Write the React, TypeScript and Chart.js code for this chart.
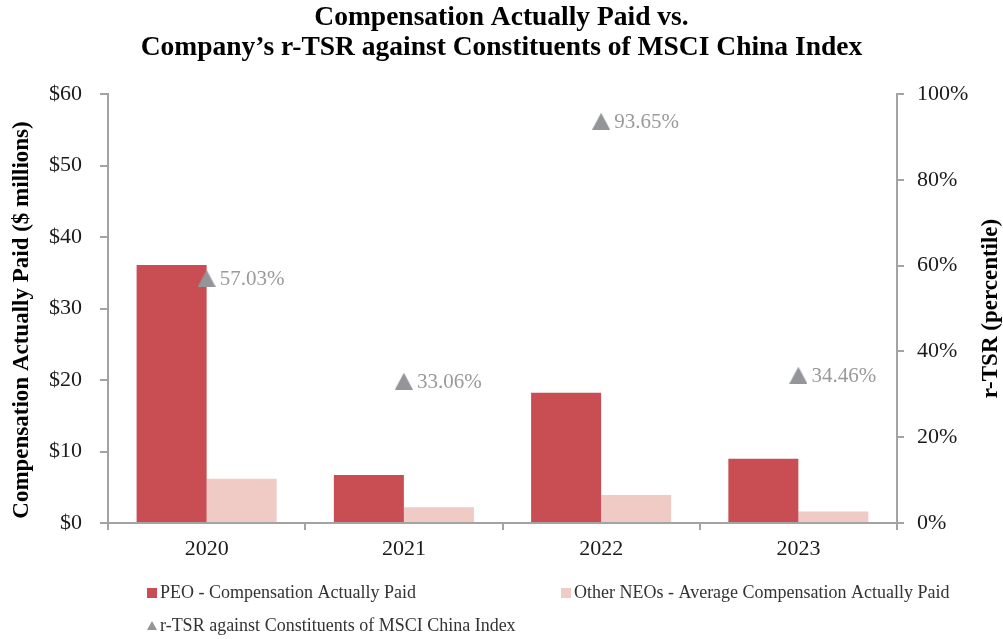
import React, { useEffect, useRef } from "react";
import { Chart, registerables } from "chart.js";

Chart.register(...registerables);

const titleLines = [
  "Compensation Actually Paid vs.",
  "Company\u2019s r-TSR against Constituents of MSCI China Index",
];
const years = ["2020", "2021", "2022", "2023"];
const peoValues = [36.1, 6.7, 18.2, 9.0];
const neoValues = [6.2, 2.2, 3.9, 1.6];
const tsrValues = [57.03, 33.06, 93.65, 34.46];
const seriesNames = [
  "PEO - Compensation Actually Paid",
  "Other NEOs - Average Compensation Actually Paid",
  "r-TSR against Constituents of MSCI China Index",
];
const leftAxisTitle = "Compensation Actually Paid ($ millions)";
const rightAxisTitle = "r-TSR (percentile)";

const SERIF = '"Liberation Serif", "Times New Roman", serif';
const PEO_COLOR = "#C84E53";
const NEO_COLOR = "#F0CAC4";
const TRI_COLOR = "#939598";
const AXIS_COLOR = "#a3a3a3";

function makeTriangle(w: number, h: number, color: string) {
  const c = document.createElement("canvas");
  c.width = w;
  c.height = h;
  const ctx = c.getContext("2d")!;
  ctx.fillStyle = color;
  ctx.beginPath();
  ctx.moveTo(w / 2, 0);
  ctx.lineTo(w, h);
  ctx.lineTo(0, h);
  ctx.closePath();
  ctx.fill();
  return c;
}

const overlayPlugin = {
  id: "overlay",
  afterDatasetsDraw(chart: any) {
    const ctx = chart.ctx as CanvasRenderingContext2D;
    const area = chart.chartArea;
    // data labels for r-TSR
    const meta = chart.getDatasetMeta(2);
    ctx.save();
    ctx.font = `21px ${SERIF}`;
    ctx.fillStyle = "#9a9a9a";
    ctx.textAlign = "left";
    ctx.textBaseline = "middle";
    meta.data.forEach((pt: any, i: number) => {
      ctx.fillText(tsrValues[i].toFixed(2) + "%", pt.x + 13, pt.y + 1);
    });
    ctx.restore();

    // title
    ctx.save();
    ctx.fillStyle = "#000";
    ctx.font = `bold 27.5px ${SERIF}`;
    ctx.textAlign = "center";
    ctx.textBaseline = "middle";
    ctx.fillText(titleLines[0], chart.width / 2, 18);
    ctx.fillText(titleLines[1], chart.width / 2, 48);
    ctx.restore();

    // axis titles
    ctx.save();
    ctx.fillStyle = "#000";
    ctx.font = `bold 23px ${SERIF}`;
    ctx.textAlign = "center";
    ctx.textBaseline = "middle";
    ctx.translate(22, 320);
    ctx.rotate(-Math.PI / 2);
    ctx.fillText(leftAxisTitle, 0, 0);
    ctx.restore();

    ctx.save();
    ctx.fillStyle = "#000";
    ctx.font = `bold 23px ${SERIF}`;
    ctx.textAlign = "center";
    ctx.textBaseline = "middle";
    ctx.translate(991, (area.top + area.bottom) / 2);
    ctx.rotate(-Math.PI / 2);
    ctx.fillText(rightAxisTitle, 0, 0);
    ctx.restore();

    // legend
    ctx.save();
    ctx.font = `18px ${SERIF}`;
    ctx.fillStyle = "#333";
    ctx.textAlign = "left";
    ctx.textBaseline = "middle";
    const items = [
      { x: 147, y: 593, kind: "box", color: PEO_COLOR },
      { x: 561, y: 593, kind: "box", color: NEO_COLOR },
      { x: 147, y: 626, kind: "tri", color: TRI_COLOR },
    ];
    items.forEach((it, i) => {
      ctx.fillStyle = it.color;
      if (it.kind === "box") {
        ctx.fillRect(it.x, it.y - 5, 10, 10);
      } else {
        ctx.beginPath();
        ctx.moveTo(it.x + 5, it.y - 5);
        ctx.lineTo(it.x + 10, it.y + 4);
        ctx.lineTo(it.x, it.y + 4);
        ctx.closePath();
        ctx.fill();
      }
      ctx.fillStyle = "#333";
      ctx.fillText(seriesNames[i], it.x + 13, it.y);
    });
    ctx.restore();
  },
};

export default function App() {
  const ref = useRef<HTMLCanvasElement | null>(null);

  useEffect(() => {
    document.body.style.margin = "0";
    const canvas = ref.current!;
    const tri = makeTriangle(18, 17, TRI_COLOR);
    const tickFont = { family: SERIF, size: 22 };
    const chart = new Chart(canvas, {
      type: "bar",
      data: {
        labels: years,
        datasets: [
          {
            type: "bar",
            label: seriesNames[0],
            data: peoValues,
            backgroundColor: PEO_COLOR,
            yAxisID: "y",
            categoryPercentage: 0.71,
            barPercentage: 1,
            order: 2,
          },
          {
            type: "bar",
            label: seriesNames[1],
            data: neoValues,
            backgroundColor: NEO_COLOR,
            yAxisID: "y",
            categoryPercentage: 0.71,
            barPercentage: 1,
            order: 2,
          },
          {
            type: "line",
            label: seriesNames[2],
            data: tsrValues,
            showLine: false,
            pointStyle: tri as any,
            pointRadius: 9,
            pointHoverRadius: 9,
            backgroundColor: TRI_COLOR,
            borderColor: TRI_COLOR,
            yAxisID: "y1",
            order: 1,
          } as any,
        ],
      },
      options: {
        responsive: false,
        animation: false,
        events: [],
        layout: { padding: { top: 94, bottom: 76, left: 0, right: 0 } },
        plugins: {
          legend: { display: false },
          title: { display: false },
          tooltip: { enabled: false },
        },
        scales: {
          x: {
            offset: true,
            grid: {
              display: true,
              drawOnChartArea: false,
              drawTicks: true,
              tickLength: 7,
              color: AXIS_COLOR,
              lineWidth: 2,
              offset: true,
            },
            border: { display: true, color: AXIS_COLOR, width: 2 },
            ticks: { font: tickFont, color: "#1a1a1a", padding: 6, maxRotation: 0 },
            afterFit: (s: any) => {
              s.height = 40;
            },
          },
          y: {
            position: "left",
            min: 0,
            max: 60,
            grid: {
              drawOnChartArea: false,
              drawTicks: true,
              tickLength: 8,
              color: AXIS_COLOR,
              lineWidth: 2,
            },
            border: { display: true, color: AXIS_COLOR, width: 2 },
            ticks: {
              stepSize: 10,
              font: tickFont,
              color: "#1a1a1a",
              padding: 18,
              callback: (v: any) => "$" + v,
            },
            afterFit: (s: any) => {
              s.width = 108;
            },
          },
          y1: {
            position: "right",
            min: 0,
            max: 100,
            grid: {
              drawOnChartArea: false,
              drawTicks: true,
              tickLength: 7,
              color: AXIS_COLOR,
              lineWidth: 2,
            },
            border: { display: true, color: AXIS_COLOR, width: 2 },
            ticks: {
              stepSize: 20,
              font: tickFont,
              color: "#1a1a1a",
              padding: 13,
              callback: (v: any) => v + "%",
            },
            afterFit: (s: any) => {
              s.width = 106;
            },
          },
        },
      } as any,
      plugins: [overlayPlugin],
    });
    return () => chart.destroy();
  }, []);

  return (
    <div style={{ width: 1003, height: 639, background: "#fff" }}>
      <canvas ref={ref} width={1003} height={639} style={{ display: "block" }} />
    </div>
  );
}
